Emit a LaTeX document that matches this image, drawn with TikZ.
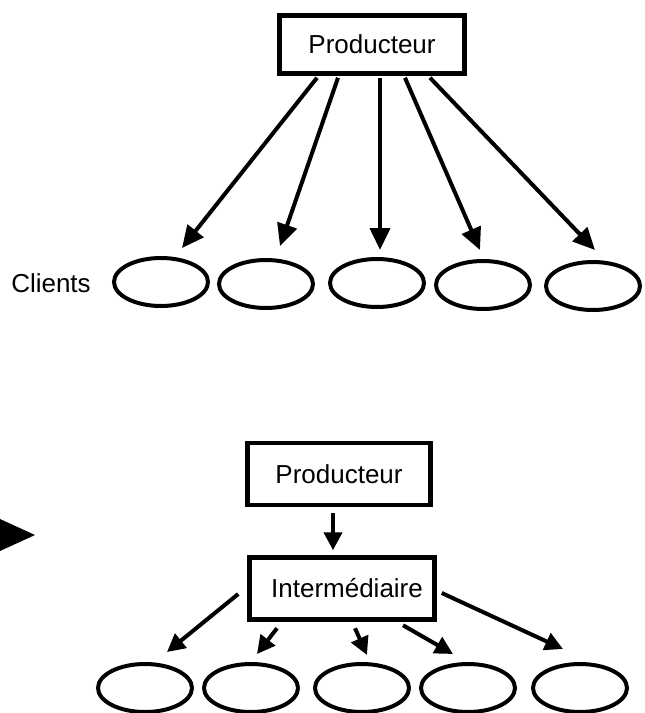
\documentclass[tikz,border=0pt]{standalone}
\usepackage{fontspec}
\setmainfont{Liberation Sans}
\usetikzlibrary{arrows.meta,shapes.geometric}
\begin{document}
\begin{tikzpicture}[x=1pt,y=-1pt,
  every node/.style={font=\fontsize{26}{31}\selectfont},
  actor/.style={draw,line width=4.5pt,rectangle,inner sep=0pt},
  client/.style={draw,line width=4pt,ellipse,minimum width=94pt,minimum height=48pt,inner sep=0pt},
  flow/.style={line width=4pt,-{Triangle[length=22pt,width=20pt]}},
  smallflow/.style={line width=4pt,-{Triangle[length=18pt,width=18pt]}}]
\useasboundingbox (0,0) rectangle (645,713);

% --- direct distribution ---
\node[actor,minimum width=185pt,minimum height=58pt] (prodA) at (372,44.5) {Producteur};
\node (clients) at (51,283) {Clients};
\node[client] (c1) at (161,282) {};
\node[client] (c2) at (266,284) {};
\node[client] (c3) at (377,283) {};
\node[client] (c4) at (483,285) {};
\node[client] (c5) at (593,286) {};

\draw[flow] ([xshift=-55pt,yshift=-2pt]prodA.south) -- ([xshift=21pt,yshift=8pt]c1.north);
\draw[flow] ([xshift=-34pt,yshift=-2pt]prodA.south) -- ([xshift=14pt,yshift=12pt]c2.north);
\draw[flow] ([xshift=8pt,yshift=-2pt]prodA.south) -- ([xshift=3pt,yshift=7pt]c3.north);
\draw[flow] ([xshift=33pt,yshift=-2pt]prodA.south) -- ([xshift=-3pt,yshift=9pt]c4.north);
\draw[flow] ([xshift=58pt,yshift=-2pt]prodA.south) -- ([xshift=2pt,yshift=10pt]c5.north);

% --- pointer ---
\fill (0,519) -- (35,535) -- (0,551) -- cycle;

% --- distribution through an intermediary ---
\node[actor,minimum width=183pt,minimum height=62pt] (prodB) at (339,474) {Producteur};
\node[actor,minimum width=185pt,minimum height=62pt] (inter) at (342,588.5) {\hspace*{10pt}Intermédiaire};
\node[client] (d1) at (145,688) {};
\node[client] (d2) at (251,688) {};
\node[client] (d3) at (362,688) {};
\node[client] (d4) at (468,688) {};
\node[client] (d5) at (580,688) {};

\draw[smallflow] ([xshift=-6pt,yshift=-6pt]prodB.south) -- ([xshift=-9pt,yshift=5pt]inter.north);

\draw[smallflow] ([xshift=-9pt,yshift=-5.5pt]inter.west) -- ([xshift=22pt,yshift=10pt]d1.north);
\draw[smallflow] ([xshift=-65pt,yshift=-6.5pt]inter.south) -- ([xshift=6pt,yshift=8pt]d2.north);
\draw[smallflow] ([xshift=13pt,yshift=-6.5pt]inter.south) -- ([xshift=5pt,yshift=7pt]d3.north);
\draw[smallflow] ([xshift=61pt,yshift=-3.5pt]inter.south) -- ([xshift=-15pt,yshift=8pt]d4.north);
\draw[smallflow] ([xshift=5pt,yshift=-4.5pt]inter.east) -- ([xshift=-17pt,yshift=13pt]d5.north);
\end{tikzpicture}
\end{document}
